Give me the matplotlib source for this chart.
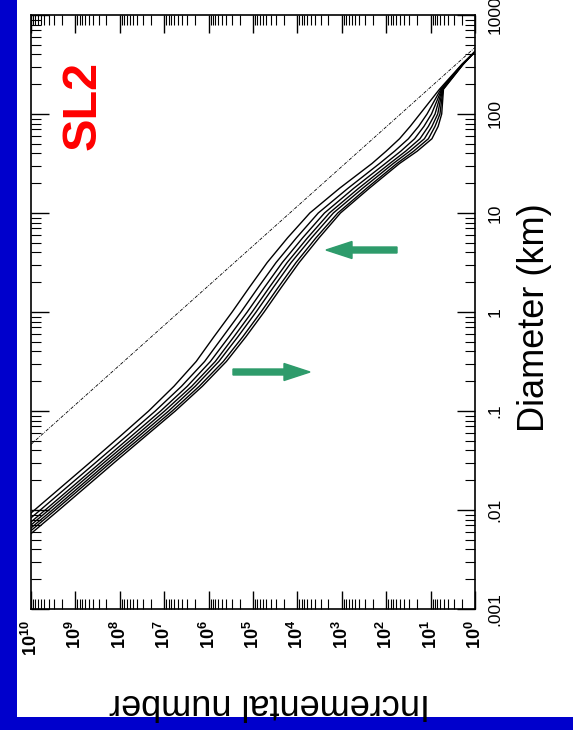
import numpy as np
import matplotlib
matplotlib.use('Agg')
import matplotlib.pyplot as plt
from matplotlib.ticker import LogLocator, NullFormatter
from matplotlib.patches import FancyArrow, Rectangle

plt.rcParams['font.family'] = ['Liberation Sans', 'DejaVu Sans']
plt.rcParams['mathtext.default'] = 'regular'

# log10 of diameter (km) at which the curves were read
log_diam = [-2.5, -2.25, -2.0, -1.75, -1.5, -1.25, -1.0, -0.75, -0.5, -0.25, 0.0,
            0.25, 0.5, 0.75, 1.0, 1.25, 1.5, 1.625, 1.75, 1.875, 2.0, 2.25, 2.5, 2.63]

# log10 of incremental number, one list per model curve
logn_a = [11.23, 10.58, 9.92, 9.27, 8.62, 7.98, 7.35, 6.78, 6.28, 5.88, 5.47, 5.08, 4.68, 4.22, 3.72, 3.05, 2.32, 2.00, 1.70, 1.46, 1.24, 0.80, 0.30, 0.00]
logn_b = [11.10, 10.45, 9.79, 9.14, 8.49, 7.84, 7.20, 6.61, 6.09, 5.68, 5.27, 4.88, 4.48, 4.02, 3.53, 2.86, 2.15, 1.81, 1.50, 1.27, 1.08, 0.77, 0.29, 0.00]
logn_c = [10.99, 10.34, 9.68, 9.03, 8.38, 7.73, 7.08, 6.48, 5.96, 5.54, 5.13, 4.74, 4.34, 3.88, 3.39, 2.73, 2.02, 1.67, 1.36, 1.15, 0.98, 0.75, 0.29, 0.00]
logn_d = [10.91, 10.26, 9.60, 8.95, 8.30, 7.64, 6.99, 6.38, 5.85, 5.43, 5.02, 4.63, 4.23, 3.77, 3.28, 2.62, 1.92, 1.56, 1.24, 1.05, 0.90, 0.74, 0.28, 0.00]
logn_e = [10.83, 10.18, 9.52, 8.87, 8.22, 7.56, 6.90, 6.30, 5.77, 5.34, 4.93, 4.54, 4.14, 3.68, 3.19, 2.53, 1.84, 1.47, 1.14, 0.97, 0.84, 0.73, 0.28, 0.00]
logn_f = [10.76, 10.11, 9.45, 8.80, 8.15, 7.48, 6.82, 6.21, 5.67, 5.23, 4.82, 4.43, 4.03, 3.58, 3.09, 2.44, 1.76, 1.38, 1.05, 0.90, 0.79, 0.72, 0.27, 0.00]
logn_g = [10.68, 10.03, 9.37, 8.72, 8.07, 7.41, 6.75, 6.14, 5.60, 5.16, 4.75, 4.36, 3.96, 3.51, 3.03, 2.38, 1.70, 1.30, 0.97, 0.83, 0.75, 0.71, 0.27, 0.00]
curves = [logn_a, logn_b, logn_c, logn_d, logn_e, logn_f, logn_g]

# reference power law (dashed)
ref_diam = [0.046, 470]
ref_n = [1e10, 1]

num_ticks = [10.0 ** k for k in range(10, -1, -1)]
num_labels = ['$10^{%d}$' % k for k in range(10, -1, -1)]
diam_ticks = [0.001, 0.01, 0.1, 1, 10, 100, 1000]
diam_labels = ['.001', '.01', '.1', '1', '10', '100', '1000']

fig = plt.figure(figsize=(5.73, 7.30), dpi=100)
fig.patch.set_facecolor('white')

# blue slide background showing at left and bottom
fig.patches.append(Rectangle((0, 0), 17 / 573, 1, transform=fig.transFigure,
                             facecolor='#0000cc', edgecolor='none', zorder=0))
fig.patches.append(Rectangle((0, 0), 1, 13 / 730, transform=fig.transFigure,
                             facecolor='#0000cc', edgecolor='none', zorder=0))

ax = fig.add_axes([31 / 573, 1 - 609 / 730, 444 / 573, 594 / 730])

d = 10.0 ** np.array(log_diam)
for ln in curves:
    ax.plot(10.0 ** np.array(ln), d, color='black', lw=1.0)
ax.plot(ref_n, ref_diam, color='black', lw=0.6, linestyle=(0, (4, 1.5, 1, 1.5)))

ax.set_xscale('log')
ax.set_yscale('log')
ax.set_xlim(1e10, 1e0)
ax.set_ylim(1e-3, 1e3)

ax.set_xticks(num_ticks)
ax.set_xticklabels(num_labels)
ax.set_yticks(diam_ticks)
ax.set_yticklabels(diam_labels)
ax.xaxis.set_minor_locator(LogLocator(base=10, subs=np.arange(2, 10), numticks=50))
ax.yaxis.set_minor_locator(LogLocator(base=10, subs=np.arange(2, 10), numticks=50))
ax.xaxis.set_minor_formatter(NullFormatter())
ax.yaxis.set_minor_formatter(NullFormatter())

ax.tick_params(which='both', direction='in', top=True, bottom=True, left=True, right=True)
ax.tick_params(which='major', length=13, width=1.0)
ax.tick_params(which='minor', length=7, width=0.8)
ax.tick_params(axis='x', labelrotation=90, labelsize=13, pad=8)
ax.tick_params(axis='y', labelleft=False, labelright=True, labelrotation=90, labelsize=12.5, pad=9)
for lab in ax.get_xticklabels():
    lab.set_fontweight('bold')
for lab in ax.get_yticklabels():
    lab.set_verticalalignment('center')
for s in ax.spines.values():
    s.set_linewidth(1.2)

fig.text(535 / 573, 1 - 318 / 730, 'Diameter (km)', rotation=90, fontsize=26,
         ha='center', va='center')
fig.text(269 / 573, 1 - 703 / 730, 'Incremental number', rotation=180, fontsize=26,
         ha='center', va='center')
fig.text(83 / 573, 1 - 105 / 730, 'SL2', rotation=90, fontsize=35, fontweight='bold',
         color='#ff0000', ha='center', va='center')

# green arrows
green = '#2e9b6b'
fig.patches.append(FancyArrow(3.97, 4.80, -0.71, 0, width=0.06, head_width=0.17,
                              head_length=0.26, length_includes_head=True,
                              transform=fig.dpi_scale_trans, color=green))
fig.patches.append(FancyArrow(2.33, 3.58, 0.77, 0, width=0.06, head_width=0.17,
                              head_length=0.26, length_includes_head=True,
                              transform=fig.dpi_scale_trans, color=green))

fig.savefig('out.png', dpi=100)
